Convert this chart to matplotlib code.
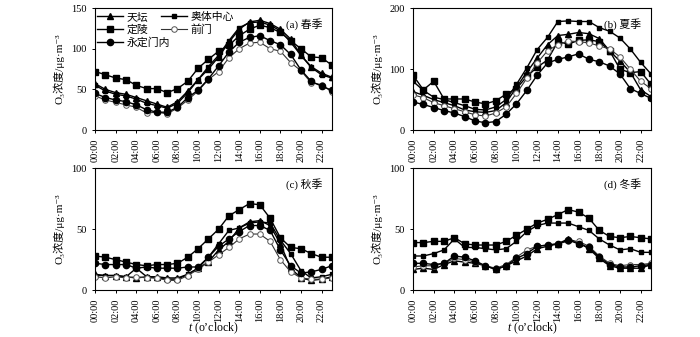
import numpy as np
import matplotlib
matplotlib.use('Agg')
import matplotlib.pyplot as plt

plt.rcParams['font.family'] = ['Liberation Serif', 'Noto Sans CJK SC', 'DejaVu Sans']
plt.rcParams['mathtext.fontset'] = 'custom'
plt.rcParams['mathtext.rm'] = 'Liberation Serif'
plt.rcParams['mathtext.it'] = 'Liberation Serif:italic'

#%% data

hours = np.arange(24)
xtick_labels = ['%02d:00' % h for h in range(0, 24, 2)]
stations = ['天坛', '奥体中心', '定陵', '前门', '永定门内']
season_tags = ['(a) 春季', '(b) 夏季', '(c) 秋季', '(d) 冬季']
ylims = [150, 200, 100, 100]
ysteps = [50, 100, 50, 50]

# spring
spr_tiantan = [57, 50, 46, 44, 40, 36, 32, 28, 35, 48, 62, 75, 90, 108, 124, 133, 135, 131, 124, 112, 92, 78, 70, 65]
spr_aoti    = [55, 48, 44, 42, 38, 33, 30, 27, 33, 46, 62, 78, 92, 110, 126, 132, 133, 129, 122, 108, 92, 77, 68, 64]
spr_dingling = [72, 68, 64, 62, 55, 51, 51, 46, 51, 60, 76, 87, 97, 104, 116, 124, 129, 126, 120, 110, 100, 90, 89, 80]
spr_qianmen = [42, 37, 34, 31, 28, 21, 22, 20, 27, 37, 48, 62, 72, 89, 100, 107, 108, 100, 97, 83, 73, 58, 56, 47]
spr_yongding = [45, 40, 37, 35, 31, 25, 22, 22, 28, 40, 49, 63, 79, 96, 108, 114, 116, 110, 105, 93, 74, 60, 54, 49]

# summer
sum_tiantan = [63, 57, 50, 45, 40, 33, 30, 29, 32, 45, 70, 95, 118, 140, 155, 157, 160, 158, 150, 130, 113, 95, 66, 55]
sum_aoti    = [80, 65, 54, 50, 45, 40, 34, 33, 38, 50, 75, 102, 132, 152, 178, 179, 178, 178, 168, 162, 151, 133, 111, 92]
sum_dingling = [90, 66, 80, 51, 51, 51, 46, 43, 48, 59, 68, 88, 103, 115, 145, 141, 147, 148, 145, 130, 100, 94, 96, 75]
sum_qianmen = [58, 53, 45, 40, 35, 30, 25, 23, 28, 38, 60, 85, 110, 130, 140, 146, 145, 143, 138, 133, 120, 100, 80, 68]
sum_yongding = [46, 42, 37, 32, 28, 22, 15, 12, 14, 26, 43, 65, 90, 110, 116, 120, 125, 116, 112, 105, 92, 68, 60, 52]

# autumn
aut_tiantan = [13, 12, 12, 11, 10, 11, 11, 10, 10, 13, 18, 23, 33, 40, 51, 56, 57, 53, 38, 18, 10, 8, 9, 11]
aut_aoti    = [12, 12, 12, 11, 18, 11, 10, 9, 9, 13, 18, 27, 38, 49, 51, 55, 56, 55, 41, 30, 16, 10, 11, 13]
aut_dingling = [28, 27, 25, 23, 21, 20, 21, 21, 22, 27, 34, 42, 50, 61, 66, 71, 70, 59, 43, 35, 34, 30, 27, 27]
aut_qianmen = [11, 10, 11, 10, 11, 10, 10, 8, 8, 12, 17, 23, 29, 35, 42, 46, 46, 40, 25, 15, 10, 9, 9, 10]
aut_yongding = [22, 21, 21, 21, 18, 19, 18, 18, 18, 19, 19, 27, 36, 42, 48, 53, 53, 49, 33, 20, 14, 15, 17, 20]

# winter
win_tiantan = [17, 18, 17, 21, 24, 23, 22, 20, 17, 20, 24, 28, 34, 36, 38, 42, 39, 34, 26, 20, 18, 18, 18, 21]
win_aoti    = [28, 28, 30, 33, 42, 35, 35, 34, 33, 34, 40, 48, 53, 55, 55, 55, 52, 49, 42, 37, 33, 34, 31, 31]
win_dingling = [39, 39, 40, 40, 43, 38, 37, 37, 37, 40, 45, 50, 55, 58, 62, 66, 64, 59, 49, 44, 43, 44, 43, 42]
win_qianmen = [19, 20, 20, 22, 26, 25, 23, 20, 18, 21, 27, 33, 36, 37, 38, 40, 40, 36, 28, 22, 20, 21, 21, 22]
win_yongding = [22, 22, 21, 22, 28, 27, 24, 20, 17, 20, 26, 30, 36, 37, 38, 41, 38, 35, 27, 21, 19, 19, 20, 21]

seasons = [
    [spr_tiantan, spr_aoti, spr_dingling, spr_qianmen, spr_yongding],
    [sum_tiantan, sum_aoti, sum_dingling, sum_qianmen, sum_yongding],
    [aut_tiantan, aut_aoti, aut_dingling, aut_qianmen, aut_yongding],
    [win_tiantan, win_aoti, win_dingling, win_qianmen, win_yongding],
]

#%% styles per station

styles = [
    dict(marker='^', ms=4.0, mfc='black', mec='black', color='black', lw=1.0),
    dict(marker='s', ms=3.0, mfc='black', mec='black', color='black', lw=1.0),
    dict(marker='s', ms=5.0, mfc='black', mec='black', color='black', lw=1.0),
    dict(marker='o', ms=4.0, mfc='white', mec='#555555', color='#333333', lw=0.8, mew=0.7),
    dict(marker='o', ms=4.5, mfc='black', mec='black', color='black', lw=1.0),
]

fig = plt.figure(figsize=(7.0, 3.37), dpi=100)

pos = [
    [0.136, 0.614, 0.338, 0.362],
    [0.590, 0.614, 0.340, 0.362],
    [0.136, 0.139, 0.338, 0.362],
    [0.590, 0.139, 0.340, 0.362],
]

ylab = 'O\u2083浓度/μg·m\u207b\u00b3'
legkw = dict(frameon=False, fontsize=7.8, handlelength=2.4, labelspacing=0.2,
             borderaxespad=0.0, handletextpad=0.3, borderpad=0.2, loc='upper left')

for k in range(4):
    ax = fig.add_axes(pos[k])
    lines = []
    for s in range(5):
        l, = ax.plot(hours, seasons[k][s], label=stations[s], **styles[s])
        lines.append(l)
    ax.set_xlim(0, 23)
    ax.set_ylim(0, ylims[k])
    ax.set_yticks(np.arange(0, ylims[k] + 1, ysteps[k]))
    ax.set_xticks(np.arange(0, 24, 2))
    ax.set_xticklabels(xtick_labels, rotation=90)
    ax.tick_params(labelsize=7.5, length=2.5, width=0.7, direction='out')
    for sp in ax.spines.values():
        sp.set_linewidth(0.8)
    ax.set_ylabel(ylab, fontsize=8, labelpad=5)
    ax.text(0.96, 0.92, season_tags[k], transform=ax.transAxes,
            ha='right', va='top', fontsize=7.8)
    if k >= 2:
        x0 = pos[k][0] + pos[k][2] / 2
        fig.text(x0, 0.025, '$t$ (o\u2019clock)', ha='center', va='center', fontsize=8.5)
    if k == 0:
        col1 = [0, 2, 4]
        col2 = [1, 3]
        leg1 = ax.legend([lines[i] for i in col1], [stations[i] for i in col1],
                         bbox_to_anchor=(0.0, 0.985), **legkw)
        ax.add_artist(leg1)
        ax.legend([lines[i] for i in col2], [stations[i] for i in col2],
                  bbox_to_anchor=(0.27, 0.985), **legkw)

fig.savefig('out.png', dpi=100)
